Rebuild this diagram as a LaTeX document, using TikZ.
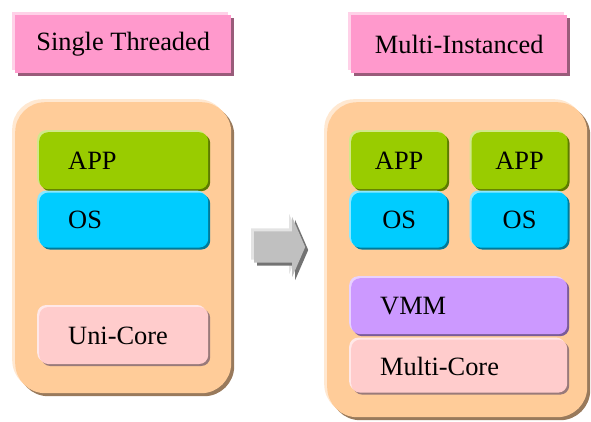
\documentclass[tikz,border=0pt]{standalone}
\usepackage{fontspec}
\setmainfont{Liberation Serif}
\usepackage{xcolor}
\usepackage{tikz}
\usetikzlibrary{shapes.arrows, shadows, positioning}
\definecolor{CustomPink}{RGB}{255,153,204}
\definecolor{CustomPeach}{RGB}{255,204,153}
\definecolor{CustomGreen}{RGB}{153,204,0}
\definecolor{CustomBlue}{RGB}{0,204,255}
\definecolor{CustomViolet}{RGB}{204,153,255}
\definecolor{CustomRose}{RGB}{255,204,204}
\definecolor{CustomGray}{RGB}{192,192,192}

\begin{document}
\begin{tikzpicture}[x=1pt,y=-1pt,
  bevel style/.style n args={2}{
    fill=#1,
    general shadow={fill=#1!45!white, shadow xshift=-#2, shadow yshift=#2},
    general shadow={fill=#1!60!black, shadow xshift=#2, shadow yshift=-#2},
  },
  title style/.style={
    bevel style={#1}{3pt},
    rectangle,
    minimum width=216pt,
    minimum height=58pt,
    font=\fontsize{26.4pt}{30pt}\selectfont,
    anchor=north west,
  },
  box style/.style={
    bevel style={#1}{3pt},
    rectangle,
    rounded corners=30pt,
    anchor=north west,
  },
  layer style/.style={
    bevel style={#1}{2pt},
    rectangle,
    rounded corners=9pt,
    minimum height=57pt,
    inner xsep=29pt,
    align=left,
    font=\fontsize{26.4pt}{30pt}\selectfont,
  },
  small layer style/.style={
    layer style=#1,
    inner xsep=0pt,
    align=center,
    minimum width=96pt,
  }
]
\useasboundingbox (0,0) rectangle (591,421);

\node[title style=CustomPink] (single) at (15,15) {Single Threaded};
\node[title style=CustomPink] (multi) at (351,15) {Multi-Instanced};

\node[box style=CustomPeach, minimum width=216pt, minimum height=291pt] (host1) at (15,102) {};
\node[box style=CustomPeach, minimum width=260pt, minimum height=315pt] (host2) at (327,102) {};

\node[layer style=CustomGreen, text width=111pt, anchor=north west] (APP) at (39,132) {APP};
\node[layer style=CustomBlue, text width=111pt, minimum height=55pt, below=3pt of APP] (OS) {OS};
\node[layer style=CustomRose, text width=111pt, below=59pt of OS] (UC) {Uni-Core};

\node[small layer style=CustomGreen, anchor=north west] (APP1) at (351,132) {APP};
\node[small layer style=CustomGreen, right=24pt of APP1] (APP2) {APP};
\node[small layer style=CustomBlue, minimum height=55pt, below=3pt of APP1] (OS1) {OS};
\node[small layer style=CustomBlue, minimum height=55pt, below=3pt of APP2] (OS2) {OS};
\node[layer style=CustomViolet, text width=158pt, minimum height=56pt, anchor=north west] (VMM) at (351,278) {VMM};
\node[layer style=CustomRose, text width=158pt, minimum height=53pt, below=5pt of VMM] (MC) {Multi-Core};

\node[single arrow, bevel style={CustomGray}{3pt}, minimum height=51pt, inner xsep=0pt, inner ysep=15.5pt,
  single arrow head extend=14.5pt, single arrow tip angle=133, anchor=tail] (shift) at (254,247) {};

\end{tikzpicture}
\end{document}
